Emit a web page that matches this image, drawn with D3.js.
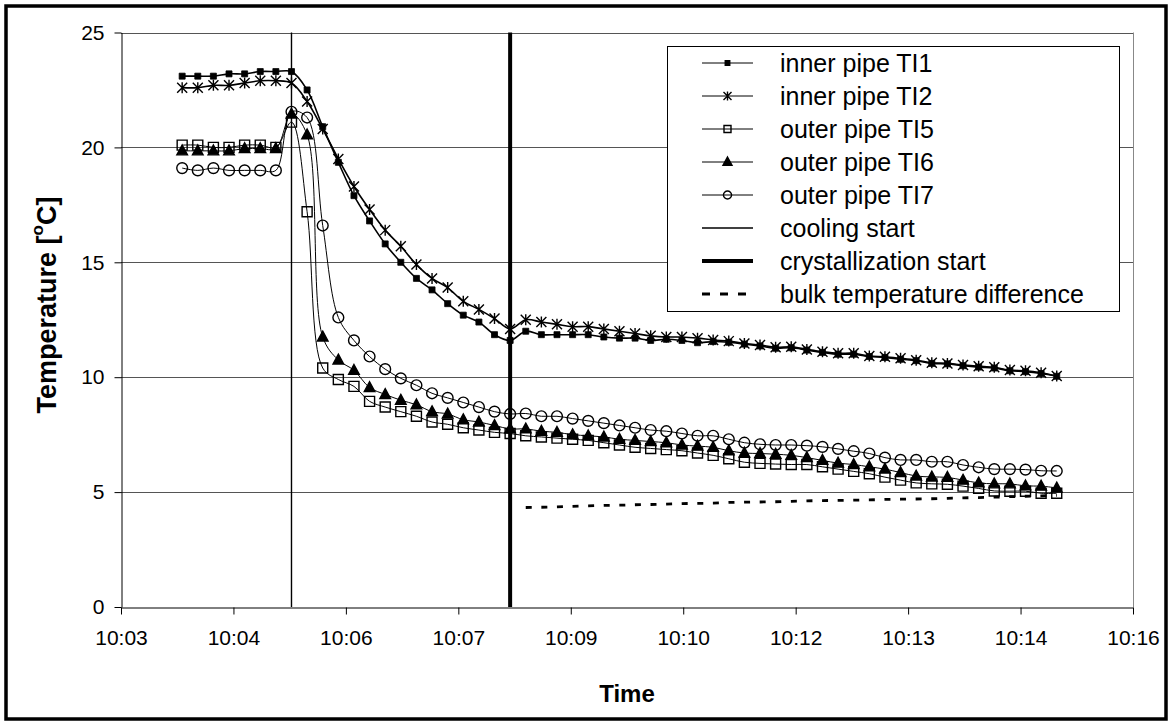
<!DOCTYPE html>
<html>
<head>
<meta charset="utf-8">
<script src="https://cdn.jsdelivr.net/npm/d3@7/dist/d3.min.js"></script>
<style>
  body { margin: 0; background: #fff; }
  text { font-family: "Liberation Sans", Arial, sans-serif; fill: #000; }
</style>
</head>
<body>
<div id="chart"></div>
<script>
// measured every 12 s
const times = ["10:04:11","10:04:23","10:04:35","10:04:47","10:04:59","10:05:11","10:05:23","10:05:35",
  "10:05:47","10:05:59","10:06:11","10:06:23","10:06:35","10:06:47","10:06:59","10:07:11","10:07:23",
  "10:07:35","10:07:47","10:07:59","10:08:11","10:08:23","10:08:35","10:08:47","10:08:59","10:09:11",
  "10:09:23","10:09:35","10:09:47","10:09:59","10:10:11","10:10:23","10:10:35","10:10:47","10:10:59",
  "10:11:11","10:11:23","10:11:35","10:11:47","10:11:59","10:12:11","10:12:23","10:12:35","10:12:47",
  "10:12:59","10:13:11","10:13:23","10:13:35","10:13:47","10:13:59","10:14:11","10:14:23","10:14:35",
  "10:14:47","10:14:59","10:15:11","10:15:23"];

const ti1 = [23.1,23.1,23.1,23.2,23.2,23.3,23.3,23.3,22.5,20.9,19.35,17.9,16.8,15.8,15.0,14.3,13.8,13.2,
  12.7,12.4,11.85,11.6,12.0,11.85,11.85,11.85,11.85,11.75,11.7,11.7,11.6,11.65,11.6,11.5,11.55,11.52,
  11.44,11.36,11.26,11.28,11.18,11.08,11.0,11.0,10.9,10.86,10.78,10.72,10.6,10.58,10.5,10.44,10.4,
  10.28,10.24,10.16,10.04];
const ti2 = [22.6,22.6,22.7,22.7,22.8,22.9,22.9,22.8,22.0,20.8,19.5,18.3,17.3,16.4,15.7,14.9,14.3,13.9,
  13.3,12.95,12.55,12.1,12.5,12.4,12.3,12.2,12.2,12.1,12.0,11.9,11.8,11.75,11.75,11.7,11.62,11.57,
  11.47,11.4,11.3,11.32,11.21,11.11,11.04,11.04,10.92,10.89,10.82,10.74,10.63,10.6,10.53,10.48,10.43,
  10.31,10.28,10.19,10.05];
const ti5 = [20.1,20.1,20.0,20.0,20.1,20.1,20.0,21.1,17.2,10.4,9.9,9.6,8.95,8.7,8.5,8.3,8.05,7.95,
  7.8,7.7,7.6,7.55,7.45,7.4,7.35,7.3,7.25,7.15,7.05,6.95,6.9,6.85,6.8,6.7,6.6,6.45,6.3,6.25,6.22,6.2,
  6.2,6.1,6.0,5.9,5.8,5.65,5.52,5.4,5.36,5.34,5.26,5.16,5.05,5.04,5.04,4.95,4.95];
const ti6 = [19.85,19.85,19.85,19.85,19.95,19.95,19.95,21.45,20.55,11.75,10.75,10.3,9.55,9.25,9.0,8.8,
  8.5,8.4,8.15,8.05,7.9,7.75,7.75,7.65,7.6,7.5,7.45,7.4,7.3,7.25,7.2,7.15,7.05,7.0,6.95,6.8,6.7,6.68,
  6.65,6.6,6.5,6.38,6.26,6.2,6.1,6.0,5.85,5.7,5.66,5.64,5.52,5.4,5.36,5.36,5.27,5.26,5.18];
const ti7 = [19.1,19.0,19.1,19.0,19.0,19.0,19.0,21.55,21.3,16.6,12.6,11.6,10.9,10.35,9.95,9.65,9.3,9.1,
  8.9,8.7,8.5,8.4,8.42,8.3,8.3,8.2,8.1,8.0,7.9,7.8,7.7,7.65,7.55,7.45,7.45,7.3,7.15,7.08,7.05,7.05,
  7.02,6.97,6.88,6.78,6.68,6.5,6.4,6.4,6.32,6.32,6.18,6.08,6.0,6.0,5.98,5.93,5.92];

// bulk temperature difference starts at 10:08:35 (index 22)
const bulkStart = 22;
const bulkDiff = [4.33,4.34,4.36,4.38,4.40,4.42,4.43,4.45,4.46,4.48,4.50,4.51,4.52,4.55,4.56,4.57,
  4.58,4.60,4.62,4.63,4.64,4.65,4.66,4.68,4.69,4.70,4.71,4.73,4.75,4.76,4.78,4.80,4.82,4.84,4.86];

const coolingStart = "10:05:35";
const crystStart = "10:08:23";

// axis settings (like excel: min + major unit)
const axisStart = "10:03:24";
const majorUnit = 1.44; // minutes
const tickLabels = ["10:03","10:04","10:06","10:07","10:09","10:10","10:12","10:13","10:14","10:16"];
const yTicks = [0,5,10,15,20,25];

const legendNames = ["inner pipe TI1","inner pipe TI2","outer pipe TI5","outer pipe TI6","outer pipe TI7",
  "cooling start","crystallization start","bulk temperature difference"];

const width = 1171, height = 724;
const plot = { left: 121, right: 1133, top: 32.5, bottom: 607 };

function toMin(s) {
  const p = s.split(":").map(Number);
  return p[0] * 60 + p[1] + (p[2] || 0) / 60;
}

const x0 = toMin(axisStart);
const tickVals = tickLabels.map((d, i) => x0 + i * majorUnit);

const x = d3.scaleLinear()
  .domain([x0, x0 + (tickLabels.length - 1) * majorUnit])
  .range([plot.left, plot.right]);
const y = d3.scaleLinear()
  .domain([0, 25])
  .range([plot.bottom, plot.top]);

const svg = d3.select("#chart")
  .append("svg")
  .attr("width", width)
  .attr("height", height);

svg.append("rect").attr("width", width).attr("height", height).attr("fill", "#fff");

// outer frame
svg.append("rect")
  .attr("x", 6).attr("y", 6)
  .attr("width", 1160).attr("height", 713)
  .attr("fill", "none").attr("stroke", "#000").attr("stroke-width", 3.5);

// gridlines
svg.append("g")
  .selectAll("line")
  .data(yTicks.slice(1))
  .join("line")
  .attr("x1", plot.left).attr("x2", plot.right)
  .attr("y1", d => Math.round(y(d)) + 0.5).attr("y2", d => Math.round(y(d)) + 0.5)
  .attr("stroke", "#555").attr("stroke-width", 1);

// plot area right border
svg.append("line")
  .attr("x1", plot.right + 0.5).attr("x2", plot.right + 0.5)
  .attr("y1", plot.top).attr("y2", plot.bottom)
  .attr("stroke", "#888");

// axes
function yAxis(g) {
  g.attr("transform", `translate(${plot.left + 0.5},0)`)
    .call(d3.axisLeft(y).tickValues(yTicks).tickSize(7).tickSizeOuter(0))
    .call(g => g.selectAll("text").attr("x", -17).attr("font-size", "21px").attr("font-family", null))
    .call(g => g.selectAll("line, path").attr("stroke", "#000"));
}
function xAxis(g) {
  g.attr("transform", `translate(0,${Math.round(plot.bottom) + 0.5})`)
    .call(d3.axisBottom(x).tickValues(tickVals).tickFormat((d, i) => tickLabels[i]).tickSize(7).tickSizeOuter(0))
    .call(g => g.selectAll("text").attr("y", 23).attr("font-size", "21px").attr("font-family", null))
    .call(g => g.selectAll("line, path").attr("stroke", "#000"));
}
svg.append("g").call(xAxis);
svg.append("g").call(yAxis);

// axis titles
svg.append("text")
  .attr("x", 627).attr("y", 702)
  .attr("text-anchor", "middle")
  .attr("font-size", "24px").attr("font-weight", "bold")
  .text("Time");

const yTitle = svg.append("text")
  .attr("transform", `translate(47,305) rotate(-90)`)
  .attr("text-anchor", "middle")
  .attr("dominant-baseline", "central")
  .attr("font-size", "27px").attr("font-weight", "bold");
yTitle.append("tspan").text("Temperature [");
yTitle.append("tspan").attr("font-size", "17px").attr("dy", -10).text("o");
yTitle.append("tspan").attr("dy", 10).text("C]");

// markers
const symbols = {
  fsquare: "M-3,-3H3V3H-3Z",
  star: "M0,-5.5V5.5M-5,-5L5,5M-5,5L5,-5",
  osquare: "M-5,-5H5V5H-5Z",
  triangle: "M0,-5.8L5.3,4L-5.3,4Z",
  circle: "M5.4,0A5.4,5.4 0 1,1 -5.4,0A5.4,5.4 0 1,1 5.4,0Z"
};

const series = [
  { values: ti1, marker: "fsquare", fill: "#000", lw: 1.6 },
  { values: ti2, marker: "star", fill: "none", lw: 1.6 },
  { values: ti5, marker: "osquare", fill: "none", lw: 1 },
  { values: ti6, marker: "triangle", fill: "#000", lw: 1 },
  { values: ti7, marker: "circle", fill: "none", lw: 1 }
];

const line = d3.line()
  .x(d => x(d[0]))
  .y(d => y(d[1]))
  .curve(d3.curveCatmullRom.alpha(0.5));

series.forEach(s => {
  const pts = s.values.map((v, i) => [toMin(times[i]), v]);
  const g = svg.append("g");
  g.append("path")
    .attr("d", line(pts))
    .attr("fill", "none").attr("stroke", "#000").attr("stroke-width", s.lw);
  g.selectAll("path.m")
    .data(pts)
    .join("path")
    .attr("class", "m")
    .attr("transform", d => `translate(${x(d[0])},${y(d[1])})`)
    .attr("d", symbols[s.marker])
    .attr("fill", s.fill)
    .attr("stroke", "#000")
    .attr("stroke-width", s.marker === "fsquare" ? 0.8 : 1.4);
});

// bulk temperature difference (dashed)
const bulkPts = bulkDiff.map((v, i) => [toMin(times[bulkStart + i]), v]);
svg.append("path")
  .attr("d", d3.line().x(d => x(d[0])).y(d => y(d[1]))(bulkPts))
  .attr("fill", "none").attr("stroke", "#000").attr("stroke-width", 2.8)
  .attr("stroke-dasharray", "6,9.6");

// cooling start / crystallization start
svg.append("line")
  .attr("x1", x(toMin(coolingStart))).attr("x2", x(toMin(coolingStart)))
  .attr("y1", y(0)).attr("y2", y(25))
  .attr("stroke", "#000").attr("stroke-width", 1.4);
svg.append("line")
  .attr("x1", x(toMin(crystStart))).attr("x2", x(toMin(crystStart)))
  .attr("y1", y(0)).attr("y2", y(25))
  .attr("stroke", "#000").attr("stroke-width", 4);

// legend
const legend = svg.append("g");
legend.append("rect")
  .attr("x", 667.5).attr("y", 46.5)
  .attr("width", 452).attr("height", 265)
  .attr("fill", "#fff").attr("stroke", "#000").attr("stroke-width", 1);

const legendStyle = [
  { marker: "fsquare", lw: 1, dash: null, scale: 0.75 },
  { marker: "star", lw: 1, dash: null, scale: 0.8 },
  { marker: "osquare", lw: 1, dash: null, scale: 0.7 },
  { marker: "triangle", lw: 1, dash: null, scale: 0.85 },
  { marker: "circle", lw: 1, dash: null, scale: 0.75 },
  { marker: null, lw: 1.4, dash: null },
  { marker: null, lw: 4, dash: null },
  { marker: null, lw: 2.8, dash: "8,10" }
];

legendNames.forEach((name, i) => {
  const ly = 63 + i * 33;
  const st = legendStyle[i];
  legend.append("line")
    .attr("x1", 702).attr("x2", 753)
    .attr("y1", ly).attr("y2", ly)
    .attr("stroke", "#000").attr("stroke-width", st.lw)
    .attr("stroke-dasharray", st.dash);
  if (st.marker) {
    legend.append("path")
      .attr("transform", `translate(727.5,${ly}) scale(${st.scale})`)
      .attr("d", symbols[st.marker])
      .attr("fill", series[i].fill)
      .attr("stroke", "#000").attr("stroke-width", 1.4 / st.scale);
  }
  legend.append("text")
    .attr("x", 780).attr("y", ly)
    .attr("dominant-baseline", "central")
    .attr("font-size", "25px")
    .text(name);
});
</script>
</body>
</html>
